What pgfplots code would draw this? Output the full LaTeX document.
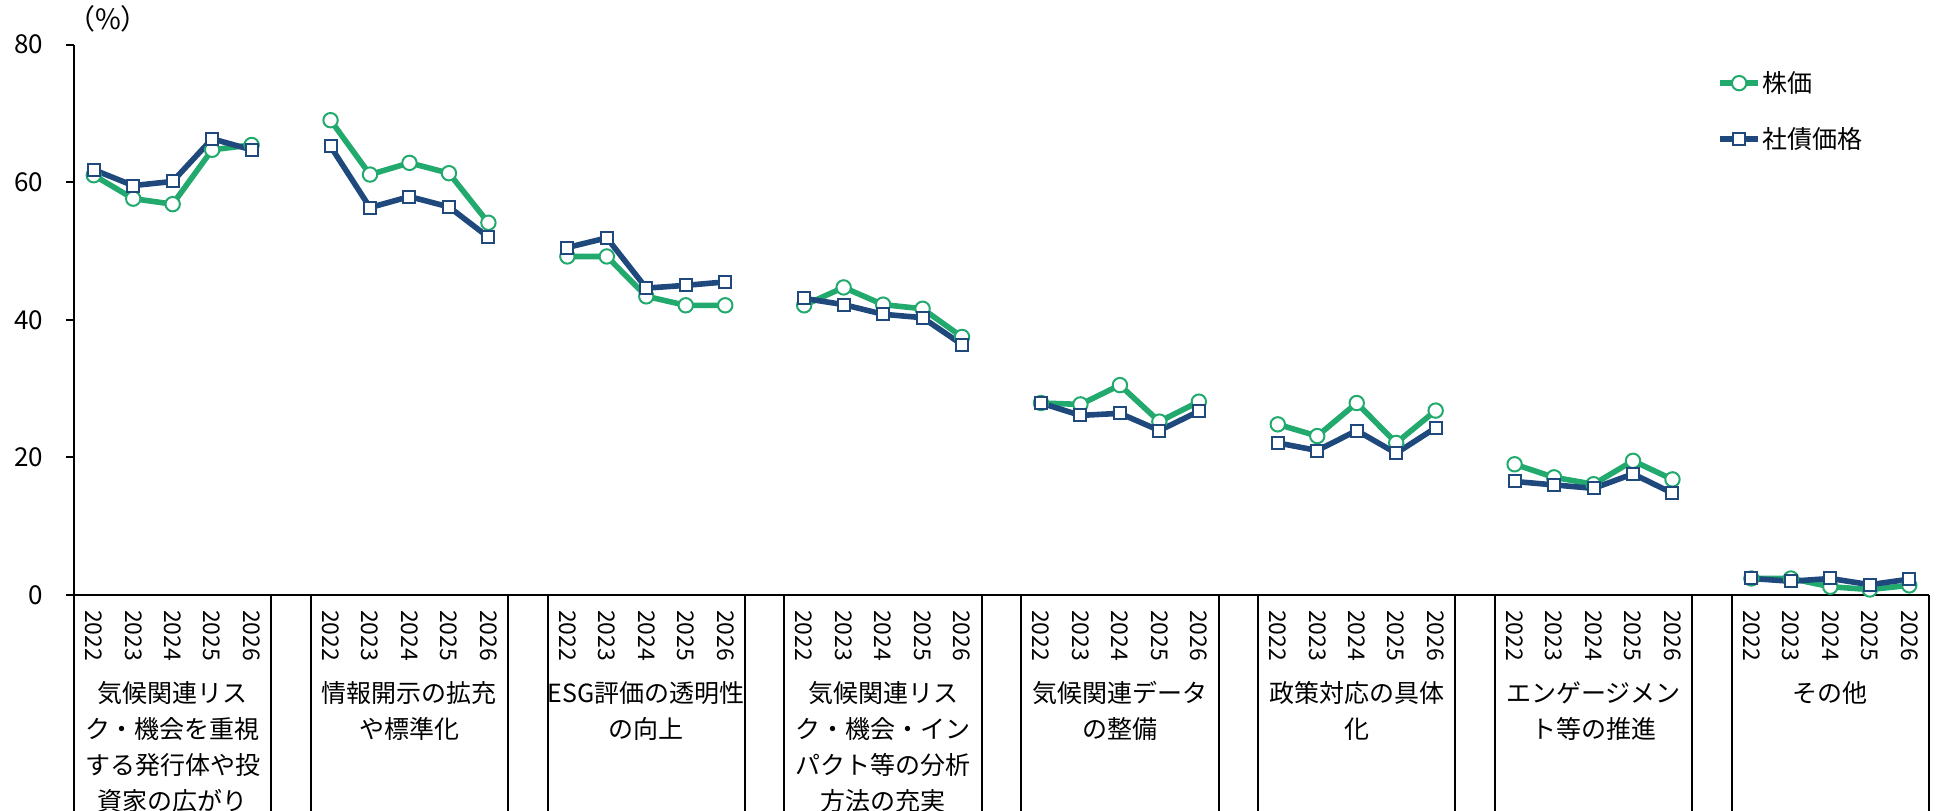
\documentclass[border=0pt]{standalone}
\usepackage{pgfplots}
\pgfplotsset{compat=1.18}
\usepackage{pgfplotstable}
\usepackage{fontspec}
\setmainfont{Noto Sans CJK JP}
\definecolor{kg}{RGB}{34,170,110}
\definecolor{kb}{RGB}{31,73,125}
\pgfplotstableread{
x g b
0.5 61.0 61.8
1.5 57.6 59.5
2.5 56.8 60.1
3.5 64.7 66.3
4.5 65.4 64.7
5.5 nan nan
6.5 69.0 65.2
7.5 61.1 56.3
8.5 62.8 57.9
9.5 61.3 56.4
10.5 54.1 52.0
11.5 nan nan
12.5 49.2 50.5
13.5 49.2 51.9
14.5 43.4 44.6
15.5 42.1 45.0
16.5 42.1 45.5
17.5 nan nan
18.5 42.1 43.1
19.5 44.7 42.2
20.5 42.2 40.8
21.5 41.6 40.3
22.5 37.5 36.4
23.5 nan nan
24.5 27.9 27.9
25.5 27.7 26.1
26.5 30.5 26.4
27.5 25.2 23.9
28.5 28.1 26.7
29.5 nan nan
30.5 24.8 22.1
31.5 23.1 21.0
32.5 27.9 23.9
33.5 22.1 20.6
34.5 26.8 24.3
35.5 nan nan
36.5 19.0 16.5
37.5 17.1 16.0
38.5 16.1 15.5
39.5 19.5 17.6
40.5 16.8 14.8
41.5 nan nan
42.5 2.4 2.4
43.5 2.4 2.0
44.5 1.2 2.4
45.5 0.8 1.5
46.5 1.4 2.3
}\data
\begin{document}
\begin{tikzpicture}
\path[use as bounding box] (-37pt,-107.5pt) rectangle (931.5pt,297.5pt);
\begin{axis}[
  scale only axis,
  width=927.5pt, height=275.25pt,
  xmin=0, xmax=47, ymin=0, ymax=80,
  clip=false,
  axis lines=left,
  axis line style={-, line width=1.2pt},
  ytick={0,20,40,60,80},
  tick align=outside,
  major tick length=4pt,
  ytick style={line width=1pt, black},
  yticklabel style={font=\fontsize{13}{15}\selectfont, xshift=-8pt},
  /pgf/number format/assume math mode=true,
  xtick={0.5,1.5,2.5,3.5,4.5,6.5,7.5,8.5,9.5,10.5,12.5,13.5,14.5,15.5,16.5,18.5,19.5,20.5,21.5,22.5,24.5,25.5,26.5,27.5,28.5,30.5,31.5,32.5,33.5,34.5,36.5,37.5,38.5,39.5,40.5,42.5,43.5,44.5,45.5,46.5},
  xticklabels={2022,2023,2024,2025,2026,2022,2023,2024,2025,2026,2022,2023,2024,2025,2026,2022,2023,2024,2025,2026,2022,2023,2024,2025,2026,2022,2023,2024,2025,2026,2022,2023,2024,2025,2026,2022,2023,2024,2025,2026},
  xtick style={draw=none},
  xticklabel style={rotate=-90, anchor=west, font=\fontsize{11.5}{13}\selectfont},
  unbounded coords=jump,
  legend style={at={(0.8857,0.956)}, anchor=north west, draw=none, fill=none, inner sep=0pt, row sep=14pt, font=\fontsize{12.5}{15}\selectfont, nodes={inner sep=1pt}},
  legend cell align=left,
  legend image code/.code={\draw[#1, mark repeat=2, mark phase=2] plot coordinates {(0pt,0pt)(9.5pt,0pt)(19pt,0pt)};},
]
\addplot[kg, line width=2.8pt, mark=*, mark size=3.6pt, mark options={fill=white, draw=kg, line width=1pt}] table[x=x, y=g] {\data};
\addlegendentry{株価}
\addplot[kb, line width=2.8pt, mark=square*, mark size=3pt, mark options={fill=white, draw=kb, line width=1pt}] table[x=x, y=b] {\data};
\addlegendentry{社債価格}
\pgfplotsinvokeforeach{0,5,6,11,12,17,18,23,24,29,30,35,36,41,42,47}{
  \draw[line width=1pt] (axis cs:#1,0) -- ++(0pt,-120pt);
}
\tikzset{glab/.style={anchor=north, yshift=-43pt, align=center, font=\fontsize{12.5}{18}\selectfont, inner sep=0pt}}
\node[glab] at (axis cs:2.5,0) {気候関連リス\\ク・機会を重視\\する発行体や投\\資家の広がり};
\node[glab] at (axis cs:8.5,0) {情報開示の拡充\\や標準化};
\node[glab] at (axis cs:14.5,0) {ESG評価の透明性\\の向上};
\node[glab] at (axis cs:20.5,0) {気候関連リス\\ク・機会・イン\\パクト等の分析\\方法の充実};
\node[glab] at (axis cs:26.5,0) {気候関連データ\\の整備};
\node[glab] at (axis cs:32.5,0) {政策対応の具体\\化};
\node[glab] at (axis cs:38.5,0) {エンゲージメン\\ト等の推進};
\node[glab] at (axis cs:44.5,0) {その他};
\node[font=\fontsize{14}{16}\selectfont, inner sep=0pt] at ([xshift=17pt, yshift=13pt]rel axis cs:0,1) {（\%）};
\end{axis}
\end{tikzpicture}
\end{document}
